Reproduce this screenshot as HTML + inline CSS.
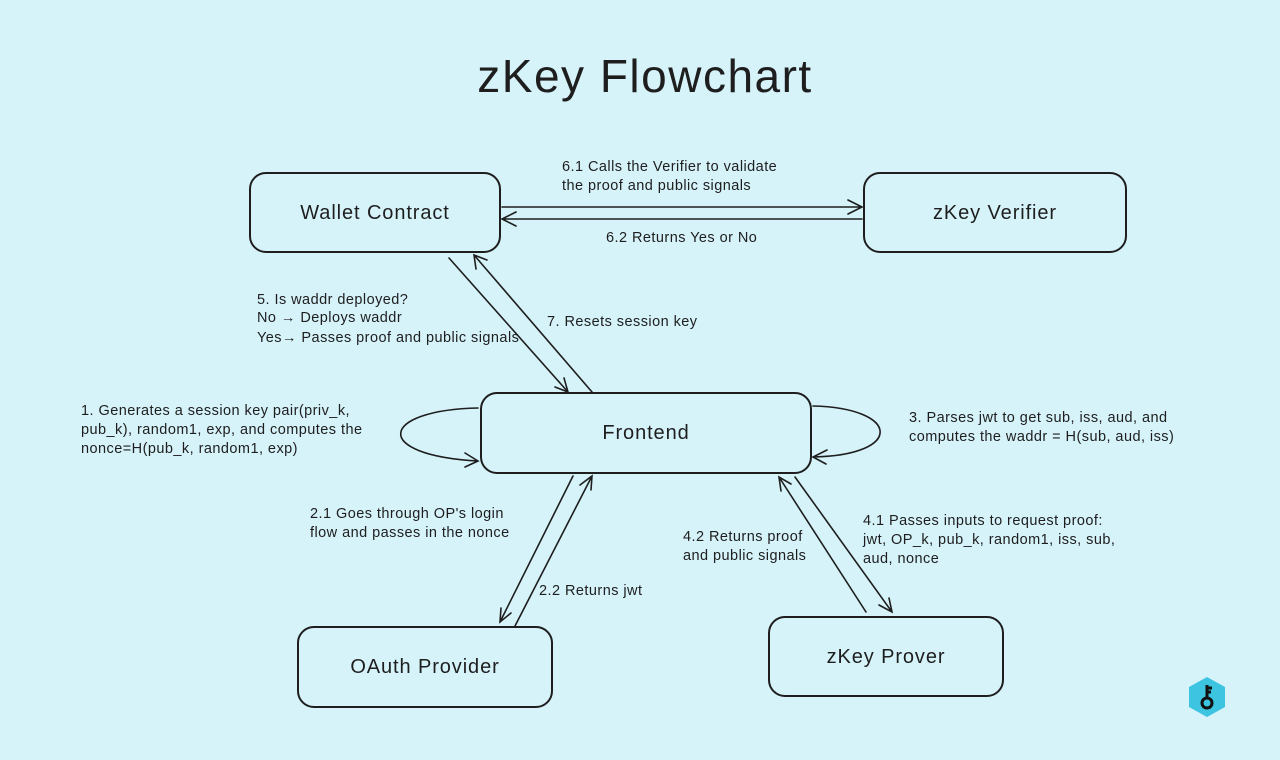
<!DOCTYPE html>
<html><head><meta charset="utf-8"><style>
html,body{margin:0;padding:0;background:#d6f3fa;}
svg{display:block}
text{font-family:"Liberation Sans",sans-serif;fill:#1e1e1e}
.l{font-size:14.5px;letter-spacing:0.45px}
.b{font-size:20px;letter-spacing:0.9px}
</style></head><body>
<svg width="1280" height="760" viewBox="0 0 1280 760">
<rect width="1280" height="760" fill="#d6f3fa"/>
<text x="645" y="92" text-anchor="middle" style="font-size:46px;letter-spacing:1.5px">zKey Flowchart</text>
<g fill="none" stroke="#1e1e1e" stroke-width="2">
<rect x="250" y="173" width="250" height="79" rx="16"/>
<rect x="864" y="173" width="262" height="79" rx="16"/>
<rect x="481" y="393" width="330" height="80" rx="16"/>
<rect x="298" y="627" width="254" height="80" rx="16"/>
<rect x="769" y="617" width="234" height="79" rx="16"/>
</g>
<g fill="none" stroke="#1e1e1e" stroke-width="1.6" stroke-linecap="round">
<path d="M502 207 L862 207 M848 200 L862 207 L848 214"/>
<path d="M862 219 L502 219 M516 212 L502 219 L516 226"/>
<path d="M449 258 L568 392 M555 387 L568 392 L564 378"/>
<path d="M592 392 L474 255 M476 269 L474 255 L487 260"/>
<path d="M478 408 C380 410 370 455 478 461 M465 453 L478 461 L465 467"/>
<path d="M813 406 C900 408 905 455 813 457 M827 450 L813 457 L826 464"/>
<path d="M573 476 L500 622 M501 608 L500 622 L511 613"/>
<path d="M515 626 L592 476 M580 485 L592 476 L591 490"/>
<path d="M866 612 L779 477 M781 491 L779 477 L791 484"/>
<path d="M795 477 L892 612 M879 605 L892 612 L889 598"/>
</g>
<text class="b" x="375" y="219" text-anchor="middle">Wallet Contract</text>
<text class="b" x="995" y="219" text-anchor="middle">zKey Verifier</text>
<text class="b" x="646" y="439" text-anchor="middle">Frontend</text>
<text class="b" x="425" y="673" text-anchor="middle">OAuth Provider</text>
<text class="b" x="886" y="663" text-anchor="middle">zKey Prover</text>
<g class="l">
<text x="562" y="171">6.1 Calls the Verifier to validate</text>
<text x="562" y="190">the proof and public signals</text>
<text x="606" y="242">6.2 Returns Yes or No</text>
<text x="257" y="304">5. Is waddr deployed?</text>
<text x="257" y="322">No → Deploys waddr</text>
<text x="257" y="342">Yes→ Passes proof and public signals</text>
<text x="547" y="326">7. Resets session key</text>
<text x="81" y="415">1. Generates a session key pair(priv_k,</text>
<text x="81" y="434">pub_k), random1, exp, and computes the</text>
<text x="81" y="453">nonce=H(pub_k, random1, exp)</text>
<text x="909" y="422">3. Parses jwt to get sub, iss, aud, and</text>
<text x="909" y="441">computes the waddr = H(sub, aud, iss)</text>
<text x="310" y="518">2.1 Goes through OP's login</text>
<text x="310" y="537">flow and passes in the nonce</text>
<text x="539" y="595">2.2 Returns jwt</text>
<text x="683" y="541">4.2 Returns proof</text>
<text x="683" y="560">and public signals</text>
<text x="863" y="525">4.1 Passes inputs to request proof:</text>
<text x="863" y="544">jwt, OP_k, pub_k, random1, iss, sub,</text>
<text x="863" y="563">aud, nonce</text>
</g>
<polygon points="1207,677 1225,687 1225,707 1207,717 1189,707 1189,687" fill="#3cc4e0"/>
<circle cx="1207" cy="703" r="5" fill="none" stroke="#111" stroke-width="3"/>
<path d="M1207 698 L1207 685 M1207 688 L1212 688 M1207 692 L1211 692" stroke="#111" stroke-width="3" fill="none"/>
</svg>
</body></html>
